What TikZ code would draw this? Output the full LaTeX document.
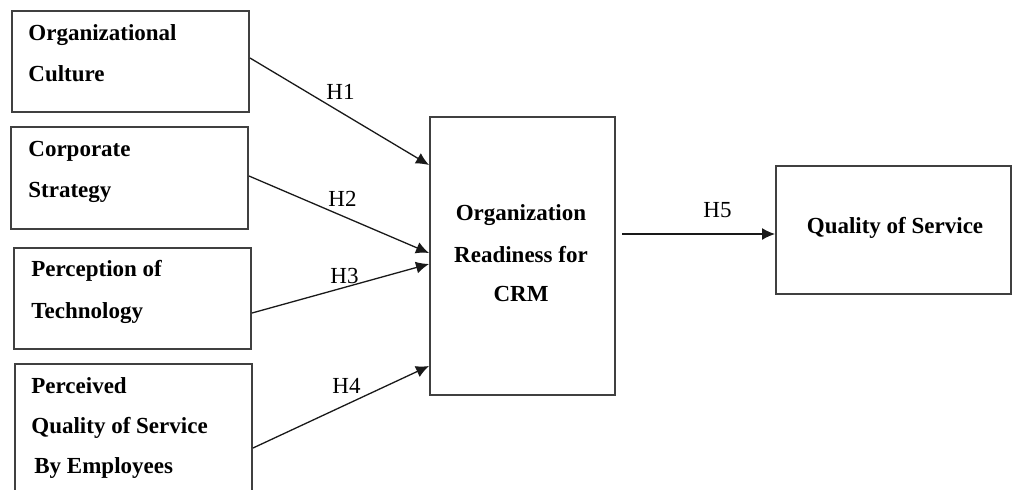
\documentclass[tikz,border=0pt]{standalone}
\usepackage{fontspec}
\setmainfont{Liberation Serif}
\usetikzlibrary{arrows.meta}
\begin{document}
\begin{tikzpicture}[x=0.5pt,y=-0.5pt,
  box/.style={draw=black!75,line width=1pt,inner sep=0pt},
  lbl/.style={inner sep=0pt,font=\fontsize{11.5}{13}\selectfont\bfseries},
  hyp/.style={inner sep=0pt,anchor=base west,font=\fontsize{11.5}{13}\selectfont},
  link/.style={draw=black!90,line width=0.65pt,-{Latex[length=6.5pt,width=6pt]}}]
\useasboundingbox (0,0) rectangle (1013,489);

% boxes
\node[box,minimum width=118.5pt,minimum height=50.5pt] (cult) at (130.5,61.5) {};
\node[box,minimum width=118.5pt,minimum height=51pt]   (strat) at (129.5,178) {};
\node[box,minimum width=118.5pt,minimum height=50.5pt] (tech) at (132.5,298.5) {};
\node[box,minimum width=118.5pt,minimum height=68pt]   (perc) at (133.5,432) {};
\node[box,minimum width=92.5pt,minimum height=139pt]   (ready) at (522.5,256) {};
\node[box,minimum width=117.5pt,minimum height=64pt]   (qos) at (893.5,230) {};

% box texts
\node[lbl,anchor=base west] (t1a) at (28,40) {Organizational};
\node[lbl,anchor=base west] (t1b) at (28,81) {Culture};
\node[lbl,anchor=base west] (t2a) at (28,156) {Corporate};
\node[lbl,anchor=base west] (t2b) at (28,197) {Strategy};
\node[lbl,anchor=base west] (t3a) at (31,276) {Perception of};
\node[lbl,anchor=base west] (t3b) at (31,318) {Technology};
\node[lbl,anchor=base west] (t4a) at (31,393) {Perceived};
\node[lbl,anchor=base west] (t4b) at (31,433) {Quality of Service};
\node[lbl,anchor=base west] (t4c) at (34,473) {By Employees};
\node[lbl,anchor=base] (t5a) at (521,220) {Organization};
\node[lbl,anchor=base] (t5b) at (521,262) {Readiness for};
\node[lbl,anchor=base] (t5c) at (521,301) {CRM};
\node[lbl,anchor=base] (t6) at (895,233) {Quality of Service};

% hypotheses
\draw[link] ([yshift=1.75pt]cult.east) -- ([yshift=45.5pt]ready.west);
\draw[link] ([yshift=1pt]strat.east) -- ([yshift=1.5pt]ready.west);
\draw[link] ([yshift=-7.25pt]tech.east) -- ([yshift=-4pt]ready.west);
\draw[link] ([yshift=-8pt]perc.east) -- ([yshift=-55pt]ready.west);
\draw[link] ([xshift=3pt,yshift=11pt]ready.east) -- ([yshift=-2pt]qos.west);

\node[hyp] (h1) at (326,99) {H1};
\node[hyp] (h2) at (328,206) {H2};
\node[hyp] (h3) at (330,283) {H3};
\node[hyp] (h4) at (332,393) {H4};
\node[hyp] (h5) at (703,217) {H5};
\end{tikzpicture}
\end{document}
